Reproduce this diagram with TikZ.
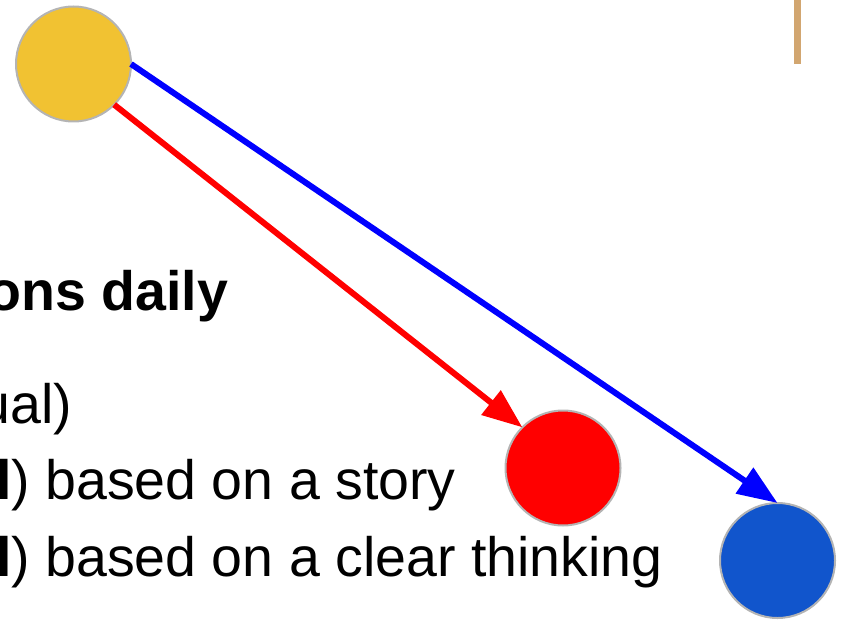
\documentclass[tikz,border=0pt]{standalone}
\usepackage{fontspec}
\setmainfont{Liberation Sans}
\usetikzlibrary{arrows.meta}
\definecolor{dotyellow}{RGB}{241,194,50}
\definecolor{dotred}{RGB}{255,0,0}
\definecolor{dotblue}{RGB}{17,85,204}
\definecolor{rimgray}{RGB}{180,180,180}
\definecolor{arrred}{RGB}{255,0,0}
\definecolor{arrblue}{RGB}{0,0,255}
\definecolor{tanbar}{RGB}{210,166,112}
\begin{document}
\begin{tikzpicture}[x=1pt,y=-1pt,
  dot/.style={circle,draw=rimgray,line width=2pt,minimum size=115pt,inner sep=0pt,outer sep=0pt},
  link/.style={line width=6pt,-{Triangle[length=40pt,width=30pt]}},
  bigtext/.style={inner sep=0pt,outer sep=0pt,font=\fontsize{55.5}{60}\selectfont}]
\useasboundingbox (0,0) rectangle (850,620);
\clip (0,0) rectangle (850,620);
% tan bar
\fill[tanbar] (793.5,0) rectangle (800.5,64);
% text
\node[bigtext,anchor=base east] (t1) at (228,310) {\textbf{ons daily}};
\node[bigtext,anchor=base east] (t2) at (72.5,423) {ual)};
\node[bigtext,anchor=base west] (t3) at (-3.9,499) {\textbf{l}) based on a story};
\node[bigtext,anchor=base west] (t4) at (-3.9,576) {\textbf{l}) based on a clear thinking};
% circles
\node[dot,fill=dotyellow] (y) at (73.5,64) {};
\node[dot,fill=dotred] (r) at (563,468) {};
\node[dot,fill=dotblue] (b) at (777.5,560.5) {};
% arrows
\draw[link,draw=arrred,color=arrred] (y.south east) -- (r.north west);
\draw[link,draw=arrblue,color=arrblue] (y.east) -- (b.north);
\end{tikzpicture}
\end{document}
